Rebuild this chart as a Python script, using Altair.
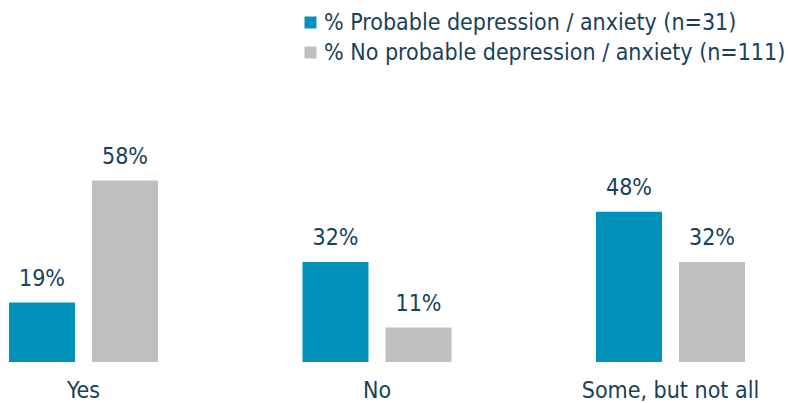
import altair as alt
import pandas as pd

categories = ["Yes", "No", "Some, but not all"]
series = ["% Probable depression / anxiety (n=31)", "% No probable depression / anxiety (n=111)"]
probable = [19, 32, 48]
no_probable = [58, 11, 32]

rows = []
for i, c in enumerate(categories):
    rows.append({"cat": c, "series": series[0], "value": probable[i], "label": f"{probable[i]}%"})
    rows.append({"cat": c, "series": series[1], "value": no_probable[i], "label": f"{no_probable[i]}%"})
df = pd.DataFrame(rows)

FONT = "DejaVu Sans Condensed"
TXT = "#17415a"
FS = 23

x = alt.X("cat:N", sort=categories, title=None,
          scale=alt.Scale(paddingInner=0.4923, paddingOuter=0.0886, align=0.173),
          axis=alt.Axis(domain=False, ticks=False, labelAngle=0, labelFontSize=FS,
                        labelFont=FONT, labelColor=TXT, labelPadding=17))
xo = alt.XOffset("series:N", sort=series, scale=alt.Scale(paddingInner=0.205, paddingOuter=0))
y = alt.Y("value:Q", scale=alt.Scale(domain=[0, 115.7]), axis=None)

bars = alt.Chart(df).mark_bar().encode(
    x=x, xOffset=xo, y=y,
    color=alt.Color("series:N", sort=series,
                    scale=alt.Scale(domain=series, range=["#0092bb", "#bfbfbf"]),
                    legend=alt.Legend(title=None, orient="none", legendX=299, legendY=11,
                                      symbolType="square", symbolSize=144, symbolStrokeWidth=0,
                                      labelFontSize=FS, labelFont=FONT, labelColor=TXT,
                                      labelOffset=2, rowPadding=6, labelLimit=600)),
)

labels = alt.Chart(df).mark_text(baseline="alphabetic", dy=-17, fontSize=FS, font=FONT, color=TXT).encode(
    x=x, xOffset=xo, y=y, text="label:N"
)

chart = (bars + labels).properties(
    width=788, height=362,
    autosize=alt.AutoSizeParams(type="none"),
    padding={"left": 0, "right": 0, "top": 0, "bottom": 41},
).configure_view(stroke=None)

chart.save("out.html", embed_options={"renderer": "svg", "actions": False})
